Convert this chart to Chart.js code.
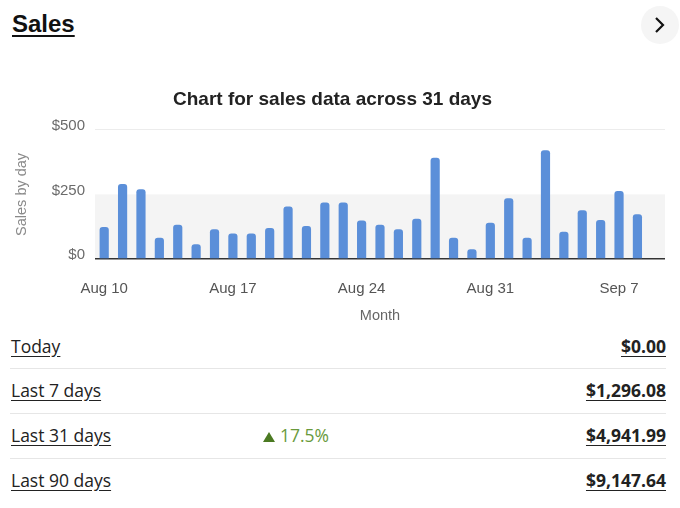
<!DOCTYPE html>
<html>
<head>
<meta charset="utf-8">
<script src="https://cdn.jsdelivr.net/npm/chart.js@4/dist/chart.umd.min.js"></script>
<style>
body{margin:0;background:#fff;width:680px;height:508px;overflow:hidden;position:relative;font-family:"Liberation Sans",Arial,sans-serif}
#title{position:absolute;left:12px;top:10px;font-size:24px;font-weight:bold;color:#111;text-decoration:underline;text-underline-offset:3px;text-decoration-thickness:2px}
#btn{position:absolute;left:641px;top:6px;width:38px;height:38px;border-radius:50%;background:#f5f5f5}
#btn svg{position:absolute;left:12px;top:11px}
#wrap{position:absolute;left:0;top:80px;width:680px;height:250px}
.row{position:absolute;left:11px;width:655px;height:30px;font-family:"Open Sans",sans-serif;font-size:17.5px;color:#222}
.row .l{position:absolute;left:0;top:1px;text-decoration:underline;text-underline-offset:3px}
.row .r{position:absolute;right:0;top:1px;font-weight:bold;text-decoration:underline;text-underline-offset:3px}
.row .d{position:absolute;left:252px;top:1px;color:#6a9a3c}
.row .d svg{margin-right:5px;vertical-align:0px}
.sep{position:absolute;left:10px;width:656px;height:1px;background:#e6e6e6}
</style>
</head>
<body>
<div id="title">Sales</div>
<div id="btn"><svg width="14" height="16" viewBox="0 0 14 16"><path d="M3 1 L10 8 L3 15" fill="none" stroke="#111" stroke-width="2.2"/></svg></div>
<div id="wrap"><canvas id="c"></canvas></div>

<div class="row" style="top:333px"><span class="l">Today</span><span class="r">$0.00</span></div>
<div class="sep" style="top:368px"></div>
<div class="row" style="top:377px"><span class="l">Last 7 days</span><span class="r">$1,296.08</span></div>
<div class="sep" style="top:413px"></div>
<div class="row" style="top:422px"><span class="l">Last 31 days</span><span class="d"><svg width="12" height="10" viewBox="0 0 12 10"><path d="M6 0 L12 10 L0 10 Z" fill="#4b7a22"/></svg>17.5%</span><span class="r">$4,941.99</span></div>
<div class="sep" style="top:458px"></div>
<div class="row" style="top:467px"><span class="l">Last 90 days</span><span class="r">$9,147.64</span></div>

<script>
const canvas = document.getElementById("c")

const bar_color = "#5b8fd9"
const days = ["Aug 10","Aug 11","Aug 12","Aug 13","Aug 14","Aug 15","Aug 16",
    "Aug 17","Aug 18","Aug 19","Aug 20","Aug 21","Aug 22","Aug 23",
    "Aug 24","Aug 25","Aug 26","Aug 27","Aug 28","Aug 29","Aug 30",
    "Aug 31","Sep 1","Sep 2","Sep 3","Sep 4","Sep 5","Sep 6",
    "Sep 7","Sep 8","Sep 9"]
const sales = [124,290,270,82,133,57,115,
    99,99,120,203,128,219,219,
    149,133,115,156,392,82,38,
    140,235,82,421,105,189,151,
    263,173,0]
const shown_labels = ["Aug 10","Aug 17","Aug 24","Aug 31","Sep 7"]
const y_ticks = [0,250,500]
const band = [0,250]

// light grey band behind the lower half of the plot
const band_plugin = {
    id:"band",
    beforeDraw(chart){
        const y = chart.scales.y
        const area = chart.chartArea
        const ctx = chart.ctx
        const top = y.getPixelForValue(band[1])
        const bottom = y.getPixelForValue(band[0])
        ctx.save()
        ctx.fillStyle = "#f4f4f4"
        ctx.fillRect(area.left, top, area.right-area.left, bottom-top)
        ctx.restore()
    }
}

const chart = new Chart(canvas.getContext("2d"),{
    type:"bar",
    data:{
        labels:days,
        datasets:[{
            data:sales,
            backgroundColor:bar_color,
            barPercentage:0.5,
            categoryPercentage:1,
            borderRadius:{topLeft:3,topRight:3}
        }]
    },
    options:{
        responsive:true,
        maintainAspectRatio:false,
        animation:false,
        layout:{padding:{left:0,right:15,top:0,bottom:0}},
        plugins:{
            legend:{display:false},
            tooltip:{enabled:false},
            title:{
                display:true,
                text:"Chart for sales data across 31 days",
                color:"#222",
                font:{family:"Liberation Sans",size:19,weight:"bold"},
                padding:{top:8,bottom:19}
            }
        },
        scales:{
            x:{
                grid:{display:false,drawTicks:false},
                border:{display:false},
                ticks:{
                    autoSkip:false,
                    maxRotation:0,
                    padding:21,
                    color:"#555",
                    font:{family:"Liberation Sans",size:15},
                    callback:function(v){
                        const l = this.getLabelForValue(v)
                        return shown_labels.includes(l) ? l : ""
                    }
                },
                title:{display:true,text:"Month",color:"#666",
                    font:{family:"Liberation Sans",size:14.5},padding:{top:0,bottom:5}},
                afterFit(s){s.height = 71}
            },
            y:{
                min:0,max:500,
                afterBuildTicks(s){s.ticks = y_ticks.map(v=>({value:v}))},
                grid:{
                    drawTicks:false,
                    color:(c)=> c.tick.value == 0 ? "#333" : (c.tick.value == 500 ? "#ececec" : "rgba(0,0,0,0)"),
                    lineWidth:(c)=> c.tick.value == 0 ? 1.5 : 1
                },
                border:{display:false},
                ticks:{
                    padding:10,
                    labelOffset:-4,
                    color:"#6b6b6b",
                    font:{family:"Liberation Sans",size:15},
                    callback:(v)=>"$"+v
                },
                title:{display:true,text:"Sales by day",color:"#8a8a8a",
                    font:{family:"Liberation Sans",size:14.5},padding:{top:13,bottom:0}},
                afterFit(s){s.width = 95}
            }
        }
    },
    plugins:[band_plugin]
})
</script>
</body>
</html>
